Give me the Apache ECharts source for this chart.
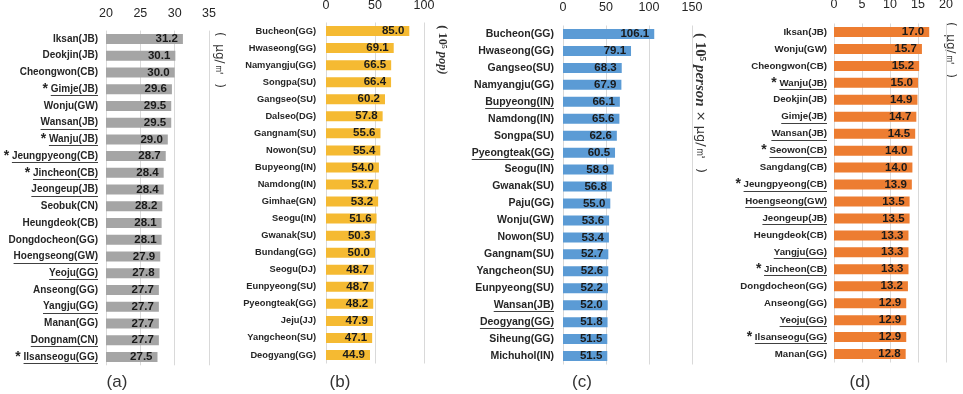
<!DOCTYPE html>
<html><head><meta charset="utf-8">
<script src="https://cdn.jsdelivr.net/npm/echarts@6/dist/echarts.min.js"></script>
<style>html,body{margin:0;padding:0;background:#fff}#c{width:963px;height:394px}</style>
</head><body><div id="c"></div>
<script>
// ---- data ----
const catA = ['Iksan(JB)','Deokjin(JB)','Cheongwon(CB)','Gimje(JB)','Wonju(GW)','Wansan(JB)','Wanju(JB)','Jeungpyeong(CB)','Jincheon(CB)','Jeongeup(JB)','Seobuk(CN)','Heungdeok(CB)','Dongdocheon(GG)','Hoengseong(GW)','Yeoju(GG)','Anseong(GG)','Yangju(GG)','Manan(GG)','Dongnam(CN)','Ilsanseogu(GG)'];
const valA = [31.2,30.1,30.0,29.6,29.5,29.5,29.0,28.7,28.4,28.4,28.2,28.1,28.1,27.9,27.8,27.7,27.7,27.7,27.7,27.5];
const undA = ['Gimje(JB)','Wansan(JB)','Wanju(JB)','Jeungpyeong(CB)','Jincheon(CB)','Jeongeup(JB)','Hoengseong(GW)','Yeoju(GG)','Yangju(GG)','Dongnam(CN)','Ilsanseogu(GG)'];
const starA = ['Gimje(JB)','Wanju(JB)','Jeungpyeong(CB)','Jincheon(CB)','Ilsanseogu(GG)'];

const catB = ['Bucheon(GG)','Hwaseong(GG)','Namyangju(GG)','Songpa(SU)','Gangseo(SU)','Dalseo(DG)','Gangnam(SU)','Nowon(SU)','Bupyeong(IN)','Namdong(IN)','Gimhae(GN)','Seogu(IN)','Gwanak(SU)','Bundang(GG)','Seogu(DJ)','Eunpyeong(SU)','Pyeongteak(GG)','Jeju(JJ)','Yangcheon(SU)','Deogyang(GG)'];
const valB = [85.0,69.1,66.5,66.4,60.2,57.8,55.6,55.4,54.0,53.7,53.2,51.6,50.3,50.0,48.7,48.7,48.2,47.9,47.1,44.9];
const undB = [];
const starB = [];

const catC = ['Bucheon(GG)','Hwaseong(GG)','Gangseo(SU)','Namyangju(GG)','Bupyeong(IN)','Namdong(IN)','Songpa(SU)','Pyeongteak(GG)','Seogu(IN)','Gwanak(SU)','Paju(GG)','Wonju(GW)','Nowon(SU)','Gangnam(SU)','Yangcheon(SU)','Eunpyeong(SU)','Wansan(JB)','Deogyang(GG)','Siheung(GG)','Michuhol(IN)'];
const valC = [106.1,79.1,68.3,67.9,66.1,65.6,62.6,60.5,58.9,56.8,55.0,53.6,53.4,52.7,52.6,52.2,52.0,51.8,51.5,51.5];
const undC = ['Bupyeong(IN)','Pyeongteak(GG)','Wansan(JB)','Deogyang(GG)'];
const starC = [];

const catD = ['Iksan(JB)','Wonju(GW)','Cheongwon(CB)','Wanju(JB)','Deokjin(JB)','Gimje(JB)','Wansan(JB)','Seowon(CB)','Sangdang(CB)','Jeungpyeong(CB)','Hoengseong(GW)','Jeongeup(JB)','Heungdeok(CB)','Yangju(GG)','Jincheon(CB)','Dongdocheon(GG)','Anseong(GG)','Yeoju(GG)','Ilsanseogu(GG)','Manan(GG)'];
const valD = [17.0,15.7,15.2,15.0,14.9,14.7,14.5,14.0,14.0,13.9,13.5,13.5,13.3,13.3,13.3,13.2,12.9,12.9,12.9,12.8];
const undD = ['Wanju(JB)','Gimje(JB)','Wansan(JB)','Seowon(CB)','Jeungpyeong(CB)','Hoengseong(GW)','Jeongeup(JB)','Yangju(GG)','Jincheon(CB)','Yeoju(GG)','Ilsanseogu(GG)'];
const starD = ['Wanju(JB)','Seowon(CB)','Jeungpyeong(CB)','Jincheon(CB)','Ilsanseogu(GG)'];

const ticksA = {min:20, max:35, interval:5};
const ticksB = {min:0, max:100, interval:50};
const ticksC = {min:0, max:150, interval:50};
const ticksD = {min:0, max:20, interval:5};

const captions = ['(a)','(b)','(c)','(d)'];
// ---- style ----
const FONT = '"Liberation Sans", Arial, sans-serif';
const LW = 'bold';
const panels = [
  {cats:catA, vals:valA, und:undA, star:starA, t:ticksA, color:'#A5A5A5', grid:{left:106, top:30.6, width:103, height:334.7}, fs:10, lm:8, xm:11},
  {cats:catB, vals:valB, und:undB, star:starB, t:ticksB, color:'#F5BA32', grid:{left:326, top:22.5, width:98, height:341}, fs:9.3, lm:10, xm:10},
  {cats:catC, vals:valC, und:undC, star:starC, t:ticksC, color:'#5B9BD5', grid:{left:563, top:25.5, width:129, height:339}, fs:10.5, lm:9, xm:11},
  {cats:catD, vals:valD, und:undD, star:starD, t:ticksD, color:'#ED7D31', grid:{left:834, top:23.5, width:112, height:339}, fs:9.7, lm:7, xm:12}
];

const cv = document.createElement('canvas').getContext('2d');
function measure(txt, fs){ cv.font = LW + ' ' + fs + 'px ' + FONT; return cv.measureText(txt).width; }

const grids=[], xAxes=[], yAxes=[], series=[];
panels.forEach((p,i)=>{
  grids.push(Object.assign({containLabel:false, outerBoundsMode:'none'}, p.grid));
  xAxes.push({gridIndex:i, type:'value', position:'top', min:p.t.min, max:p.t.max, interval:p.t.interval,
    axisLine:{show:false}, axisTick:{show:false},
    splitLine:{show:true, lineStyle:{color:'#d9d9d9', width:1}},
    axisLabel:{fontSize:12.5, color:'#262626', fontFamily:FONT, margin:p.xm}});
  yAxes.push({gridIndex:i, type:'category', data:p.cats, inverse:true,
    axisLine:{show:false}, axisTick:{show:false},
    axisLabel:{interval:0, margin:p.lm, fontSize:p.fs, fontWeight:LW, color:'#262626', fontFamily:FONT,
      formatter: v => p.star.includes(v) ? '{s|*} ' + v : v,
      rich:{s:{fontSize:14, fontWeight:'bold', color:'#262626', fontFamily:FONT}}}});
  series.push({type:'bar', xAxisIndex:i, yAxisIndex:i, data:p.vals, barWidth:10, clip:true,
    itemStyle:{color:p.color},
    label:{show:true, position:'insideRight', distance:5, formatter: d => d.value.toFixed(1),
      color:'#1a1a1a', fontWeight:'bold', fontSize:11.5, fontFamily:FONT}});
  const ud = [];
  p.cats.forEach((c,k)=>{ if(p.und.includes(c)) ud.push([p.t.min, k, measure(c, p.fs)]); });
  if (ud.length) series.push({type:'custom', xAxisIndex:i, yAxisIndex:i, data:ud, silent:true, clip:false, z:5,
    encode:{x:0, y:1},
    renderItem:(params, api)=>{
      const pt = api.coord([api.value(0), api.value(1)]);
      const xr = pt[0] - p.lm, w = api.value(2), y = Math.round(pt[1] + 6) + 0.5;
      return {type:'line', shape:{x1:xr - w, y1:y, x2:xr, y2:y}, style:{stroke:'#404040', lineWidth:1}};
    }});
});

const graphics = [];
const capX = [117, 340, 582, 860];
captions.forEach((c,i)=>graphics.push({type:'text', x:capX[i], y:382, style:{text:c, fontSize:17, fontFamily:'"Liberation Sans", Arial, sans-serif', fill:'#333', align:'center', verticalAlign:'middle'}}));
const unitSans = {fontSize:12, fontFamily:'"DejaVu Sans", sans-serif', fill:'#333'};
function unit(x, y, text, rich){
  graphics.push({type:'text', x:x, y:y, rotation:-Math.PI/2,
    style:Object.assign({text:text, align:'center', verticalAlign:'middle', rich:rich||{}}, unitSans)});
}
unit(219, 60, '(  μg/㎥  )');
unit(442, 50, '{b|( 10⁵ }{i|pop)}', {b:{fontSize:12.5, fontWeight:'bold', fontFamily:'"Liberation Serif", serif', fill:'#333'}, i:{fontSize:12.5, fontWeight:'bold', fontStyle:'italic', fontFamily:'"Liberation Serif", serif', fill:'#333'}});
unit(700, 103, '{b|( 10⁵ }{i|person}{n| × μg/㎥  )}', {b:{fontSize:15, fontWeight:'bold', fontFamily:'"Liberation Serif", serif', fill:'#333'}, i:{fontSize:15, fontWeight:'bold', fontStyle:'italic', fontFamily:'"Liberation Serif", serif', fill:'#333'}, n:{fontSize:13, fontFamily:'"DejaVu Sans", sans-serif', fill:'#333'}});
unit(950, 50, '(  μg/㎥  )');

const chart = echarts.init(document.getElementById('c'), null, {renderer:'canvas'});
chart.setOption({animation:false, backgroundColor:'#fff', grid:grids, xAxis:xAxes, yAxis:yAxes, series:series, graphic:graphics});
</script></body></html>
